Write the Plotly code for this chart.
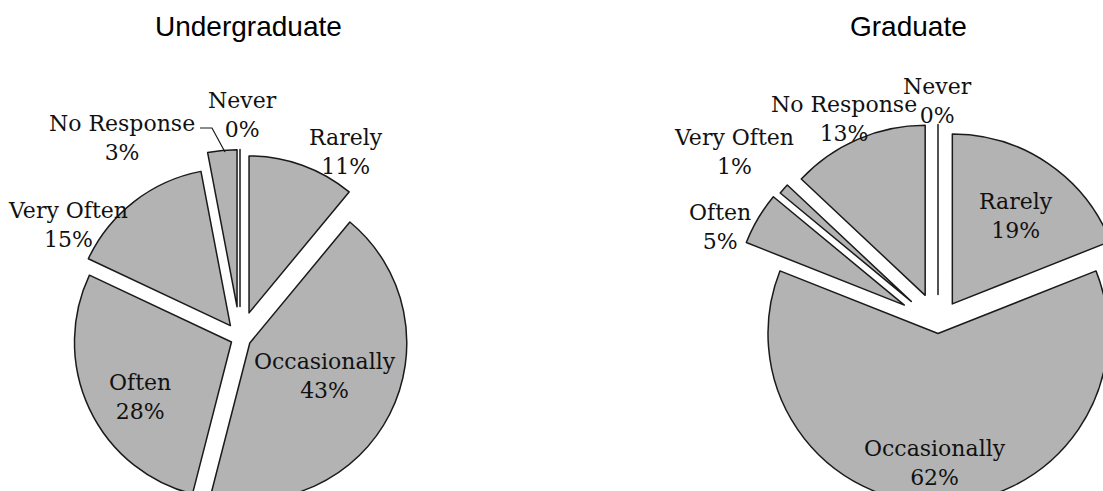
import plotly.graph_objects as go

# ---- data ----
categories = ["Rarely", "Occasionally", "Often", "Very Often", "No Response", "Never"]
undergrad_pct = [11, 43, 28, 15, 3, 0]
grad_pct = [19, 62, 5, 1, 13, 0]
titles = ["Undergraduate", "Graduate"]

# ---- styles / layout (pixel positions on the page) ----
W, H = 1150, 540
FILL = "#b3b3b3"
EDGE = "#1a1a1a"
LABEL_FONT = "DejaVu Serif"
TITLE_FONT = "Liberation Sans, Arial, sans-serif"

ug_pull = [0.17, 0.07, 0.06, 0.10, 0.20, 0.20]
gr_pull = [0.15, 0.05, 0.23, 0.21, 0.19, 0.18]

ug_label_xy = [(346, 152), (325, 376), (140, 397), (68, 225), (122, 138), (242, 115)]
gr_label_xy = [(1016, 216), (935, 463), (720, 227), (734, 152), (844, 119), (937, 101)]


def px(x, y):
    return x / W, 1 - y / H


def box(cx, cy, r, pulls):
    half = r * (1 + max(pulls))
    return dict(x=[(cx - half) / W, (cx + half) / W],
                y=[1 - (cy + half) / H, 1 - (cy - half) / H])


def pie(values, pulls, dom):
    return go.Pie(
        labels=categories,
        values=values,
        sort=False,
        direction="clockwise",
        rotation=0,
        pull=pulls,
        textinfo="none",
        automargin=False,
        marker=dict(colors=[FILL] * len(categories), line=dict(color=EDGE, width=1.5)),
        domain=dom,
        showlegend=False,
        hoverinfo="label+value",
    )


fig = go.Figure()
fig.add_trace(pie(undergrad_pct, ug_pull, box(240, 338, 157, ug_pull)))
fig.add_trace(pie(grad_pct, gr_pull, box(938, 325, 170, gr_pull)))

annotations = []
for t, (tx, ty) in zip(titles, [(248, 26), (908, 26)]):
    x, y = px(tx, ty)
    annotations.append(dict(text=t, x=x, y=y, xref="paper", yref="paper",
                            showarrow=False, xanchor="center", yanchor="middle",
                            font=dict(family=TITLE_FONT, size=28, color="black")))

for values, positions in [(undergrad_pct, ug_label_xy), (grad_pct, gr_label_xy)]:
    for cat, val, (lx, ly) in zip(categories, values, positions):
        x, y = px(lx, ly)
        annotations.append(dict(text=f"{cat}<br>{val}%", x=x, y=y,
                                xref="paper", yref="paper", showarrow=False,
                                xanchor="center", yanchor="middle", align="center",
                                font=dict(family=LABEL_FONT, size=22, color="#111111")))

# leader line for "No Response" (undergraduate)
lead = [px(200, 128), px(212, 128), px(225, 152)]
path = "M {} {} L {} {} L {} {}".format(*[c for p in lead for c in p])

fig.update_layout(
    width=W,
    height=H,
    autosize=False,
    margin=dict(l=0, r=0, t=0, b=0, pad=0, autoexpand=False),
    paper_bgcolor="white",
    plot_bgcolor="white",
    showlegend=False,
    annotations=annotations,
    shapes=[dict(type="path", path=path, xref="paper", yref="paper",
                 line=dict(color=EDGE, width=1.2))],
)

fig.write_html("out.html")
